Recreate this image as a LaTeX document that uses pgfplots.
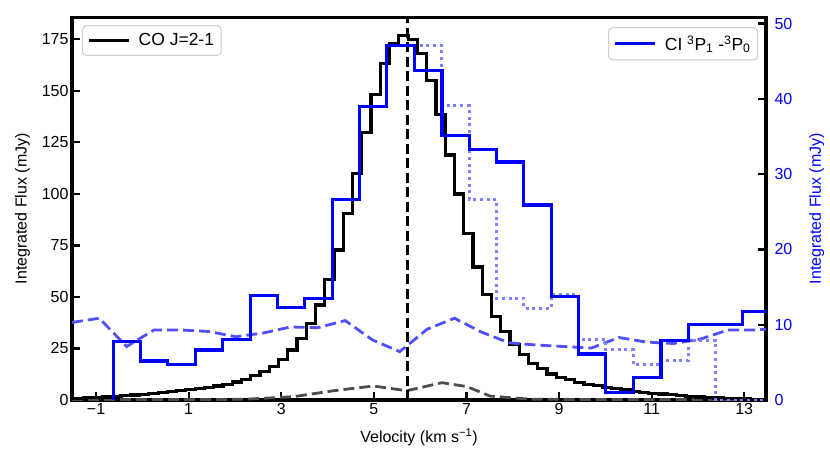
\documentclass[border=0pt]{standalone}
\usepackage{fontspec}
\setmainfont{Liberation Sans}
\usepackage{pgfplots}
\pgfplotsset{compat=1.18}
\definecolor{ciblue}{HTML}{0000FF}
\definecolor{cidot}{HTML}{8080FF}
\definecolor{cidash}{HTML}{5050FF}
\definecolor{conoise}{HTML}{4D4D4D}
\definecolor{legframe}{HTML}{CCCCCC}

\pgfplotsset{
  twin/.style={
    scale only axis, width=694pt, height=382.5pt,
    xmin=-1.52, xmax=13.47,
    axis line style={line width=3.2pt},
    tick align=inside, major tick length=8pt,
    major tick style={line width=2.2pt, black},
    /pgf/number format/assume math mode=true,
    tick label style={font=\fontsize{16}{19}\selectfont},
    label style={font=\fontsize{16}{19}\selectfont},
    legend cell align=left,
    legend image code/.code={\draw[#1,line width=3.2pt] (0pt,0pt) -- (40pt,0pt);
      \path (46pt,0pt);},
  },
  legbox/.style={draw=legframe, line width=1pt, rounded corners=4pt,
    fill=white, fill opacity=0.8, text opacity=1,
    font=\fontsize{17.5}{21}\selectfont, inner xsep=5pt, inner ysep=6pt},
}

\begin{document}
\begin{tikzpicture}
% CO J=2-1 on the left axis
\begin{axis}[twin, name=co,
  ymin=0, ymax=185.6,
  xtick={-1,1,3,5,7,9,11,13},
  xticklabels={−1,1,3,5,7,9,11,13},
  ytick={0,25,50,75,100,125,150,175},
  xtick pos=left, ytick pos=left,
  xlabel={Velocity (km s\textsuperscript{−1})},
  ylabel={Integrated Flux (mJy)},
  xlabel shift=7pt, ylabel shift=5pt,
  legend style={legbox, at={(0.0144,0.980)}, anchor=north west},
]
\addplot[conoise, line width=2.8pt, dash pattern=on 11pt off 5pt, forget plot] coordinates {
  (-1.52,0.2) (1.5,0.2) (2.25,0.4) (3.26,1.6) (4.13,4.5) (4.99,6.8)
  (5.71,4.5) (6.47,8.4) (7.01,6.5) (7.51,1.9) (8.37,0.4) (10.0,0.2) (13.52,0.2)
};
\addplot[black, line width=3.2pt, const plot mark left] coordinates {
  (-1.66,0.8) (-1.46,0.9) (-1.26,1.1) (-1.06,1.3) (-0.86,1.5) (-0.66,1.8)
  (-0.46,2.1) (-0.26,2.4) (-0.06,2.7) (0.14,3.2) (0.34,3.5) (0.54,4.0)
  (0.74,4.5) (0.94,5.0) (1.14,5.5) (1.34,6.2) (1.54,6.8) (1.74,7.6)
  (1.94,8.7) (2.14,10.0) (2.34,11.7) (2.54,13.7) (2.74,16.2) (2.94,19.7)
  (3.14,24.3) (3.34,29.9) (3.54,37.2) (3.74,46.1) (3.94,58.3) (4.14,72.8)
  (4.34,90.6) (4.54,110.0) (4.74,129.8) (4.94,148.1) (5.14,163.4) (5.34,172.7)
  (5.54,176.7) (5.74,174.8) (5.94,168.0) (6.14,155.0) (6.34,138.7) (6.54,118.9)
  (6.74,100.0) (6.94,80.9) (7.14,64.5) (7.34,51.2) (7.54,40.4) (7.74,33.2)
  (7.94,26.8) (8.14,22.0) (8.34,17.9) (8.54,15.2) (8.74,12.6) (8.94,11.0)
  (9.14,9.8) (9.34,8.6) (9.54,7.7) (9.74,6.9) (9.94,6.2) (10.14,5.5)
  (10.34,4.9) (10.54,4.3) (10.74,3.8) (10.94,3.3) (11.14,2.9) (11.34,2.5)
  (11.54,2.1) (11.74,1.8) (11.94,1.5) (12.14,1.2) (12.34,1.0) (12.54,0.8)
  (12.74,0.6) (12.94,0.5) (13.14,0.4) (13.34,0.3) (13.54,0.3)
};
\addlegendentry{CO J=2-1}
\addplot[black, line width=2.8pt, dash pattern=on 10pt off 4.5pt, forget plot] coordinates {
  (5.72,0) (5.72,185.6)
};
\end{axis}
% CI 3P1-3P0 on the right axis
\begin{axis}[twin,
  axis y line*=right, axis x line=none,
  ymin=0, ymax=50.8,
  ytick={0,10,20,30,40,50},
  yticklabel style={text=ciblue, xshift=5pt},
  ylabel={Integrated Flux (mJy)},
  ylabel style={text=ciblue},
  ylabel shift=10pt,
  legend style={legbox, at={(0.9885,0.975)}, anchor=north east},
]
\addplot[cidash, line width=2.8pt, dash pattern=on 11pt off 5pt, forget plot] coordinates {
  (-1.52,10.3) (-0.93,10.86) (-0.34,7.1) (0.25,9.3) (0.84,9.3) (1.43,9.1)
  (2.02,8.4) (2.61,8.9) (3.20,9.7) (3.79,9.6) (4.38,10.55) (4.97,7.98)
  (5.56,6.42) (6.15,9.4) (6.74,10.86) (7.33,9.0) (7.92,7.6) (8.51,7.3)
  (9.11,7.1) (9.70,6.9) (10.29,8.3) (10.88,7.7) (11.47,7.5) (12.06,8.1)
  (12.65,9.3) (13.24,9.3) (13.83,9.6)
};
\addplot[cidot, line width=3pt, dash pattern=on 3pt off 3.7pt, const plot mark left, forget plot] coordinates {
  (-0.63,0) (-0.63,7.75) (-0.04,5.19) (0.55,4.74) (1.14,6.65) (1.73,8.07)
  (2.33,13.87) (2.92,12.27) (3.51,13.43) (4.10,26.6) (4.69,39.0) (5.28,47.07)
  (5.87,47.07) (6.47,39.1) (7.06,26.6) (7.65,13.5) (8.24,12.2) (8.83,14.0)
  (9.42,8.1) (10.01,6.65) (10.60,4.7) (11.20,5.2) (11.79,7.9) (12.38,0)
  (13.56,0)
};
\addplot[ciblue, line width=3.2pt, const plot mark left] coordinates {
  (-0.63,0) (-0.63,7.75) (-0.04,5.19) (0.55,4.74) (1.14,6.65) (1.73,8.07)
  (2.33,13.87) (2.92,12.27) (3.51,13.43) (4.10,26.6) (4.69,39.0) (5.28,47.07)
  (5.87,43.8) (6.47,35.1) (7.06,33.3) (7.65,31.6) (8.24,25.9) (8.83,13.7)
  (9.42,6.12) (10.01,0.95) (10.60,3.0) (11.20,7.85) (11.79,10.05) (12.38,10.05)
  (12.97,11.74) (13.56,11.74)
};
\addlegendentry{CI \textsuperscript{3}P\textsubscript{1} -\textsuperscript{3}P\textsubscript{0}}
\end{axis}
\pgfresetboundingbox
\path[use as bounding box] ([xshift=-72pt,yshift=-75pt]co.south west)
  rectangle ([xshift=64pt,yshift=17.5pt]co.north east);
\end{tikzpicture}
\end{document}
